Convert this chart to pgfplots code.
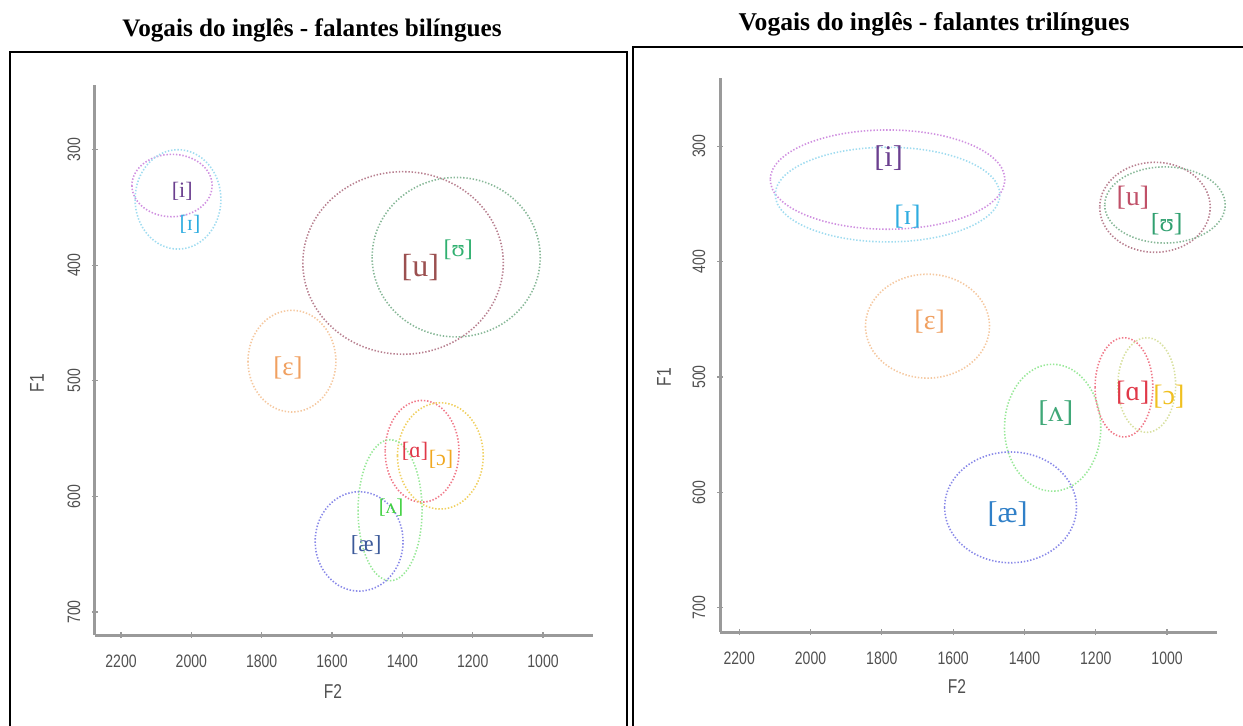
\documentclass[border=0pt]{standalone}
\usepackage{pgfplots}
\pgfplotsset{compat=1.18}
\usepackage{fontspec}
\setmainfont{Liberation Serif}
\newfontfamily\tickfont[FakeStretch=0.78]{Liberation Sans}
\newfontfamily\ipafont{Liberation Serif}

\definecolor{axisgray}{HTML}{9A9A9A}
\definecolor{tickgray}{HTML}{505050}
% ellipse colours
\definecolor{eI}{HTML}{D090E0}
\definecolor{eII}{HTML}{A0DCF0}
\definecolor{eU}{HTML}{B88090}
\definecolor{eUU}{HTML}{88B898}
\definecolor{eE}{HTML}{F5C8A0}
\definecolor{eA}{HTML}{F07888}
\definecolor{eO}{HTML}{F0D060}
\definecolor{eV}{HTML}{98E898}
\definecolor{eAE}{HTML}{8888E8}
% label colours
\definecolor{lI}{HTML}{6B3F8F}
\definecolor{lII}{HTML}{2EACE0}
\definecolor{lU}{HTML}{9B5050}
\definecolor{lUU}{HTML}{30B070}
\definecolor{lE}{HTML}{F0A060}
\definecolor{lA}{HTML}{E03848}
\definecolor{lO}{HTML}{F0A820}
\definecolor{lV}{HTML}{40D040}
\definecolor{lAE}{HTML}{3C5A9A}
\definecolor{rU}{HTML}{C05068}
\definecolor{rUU}{HTML}{30A070}
\definecolor{rV}{HTML}{40A878}
\definecolor{rAE}{HTML}{3080C8}
\definecolor{rO}{HTML}{F0C020}
\definecolor{rOe}{HTML}{D8E0A0}

% vowel ellipse: centre F2, centre F1, radius F2, radius F1, colour
\newcommand{\vell}[5]{\draw[#5, line width=0.8pt, dash pattern=on 0.7pt off 0.9pt] (axis cs:#1,#2) ellipse [x radius=#3, y radius=#4];}
% vowel label: F2, F1, text, colour, size
\newcommand{\vlab}[5]{\node[text=#4, inner sep=0pt, font=\ipafont\fontsize{#5}{#5}\selectfont] at (axis cs:#1,#2) {#3};}

\pgfplotsset{vowelaxis/.style={
  scale only axis, x dir=reverse, y dir=reverse,
  axis x line=bottom, axis y line=left,
  axis line style={-, draw=axisgray, line width=1.5pt},
  xtick={1000,1200,1400,1600,1800,2000,2200},
  ytick={300,400,500,600,700},
  tick style={draw=axisgray, line width=0.6pt},
  major tick length=3pt, tick align=center,
  ticklabel style={font=\tickfont\fontsize{9}{9}\selectfont, text=tickgray},
  xticklabel style={anchor=center, yshift=-11.5pt},
  yticklabel style={xshift=-9pt, rotate=90, anchor=center},
  /pgf/number format/1000 sep={},
  /pgf/number format/assume math mode=true,
  scaled ticks=false, clip=false,
}}

\begin{document}
\begin{tikzpicture}
\path[use as bounding box] (0,0) rectangle (621.5pt,362.5pt);
% frames
\draw[black, line width=1pt] (5pt,-2pt) rectangle (313.5pt,336.5pt);
\draw[black, line width=1pt] (316.5pt,-2pt) rectangle (623pt,339pt);
% titles
\node[font=\bfseries\fontsize{12.6}{13}\selectfont, anchor=base] at (156pt,344.5pt) {Vogais do inglês - falantes bilíngues};
\node[font=\bfseries\fontsize{12.8}{13}\selectfont, anchor=base] at (467pt,347pt) {Vogais do inglês - falantes trilíngues};

% ---------------- left: bilingual speakers
\begin{axis}[vowelaxis, name=L, at={(47.5pt,45pt)}, anchor=south west,
  width=249pt, height=275pt, xmin=858, xmax=2274, ymin=244, ymax=720]
\vell{2055}{331}{114}{27}{eI}
\vell{2038}{343}{122}{43}{eII}
\vell{1398}{398}{285}{79}{eU}
\vell{1247}{393}{239}{69}{eUU}
\vell{1714}{483}{125}{44}{eE}
\vell{1344}{561}{105}{44}{eA}
\vell{1292}{565}{122}{46}{eO}
\vell{1435}{612}{91}{61}{eV}
\vell{1523}{639}{125}{43}{eAE}
\vlab{2026}{336}{[i]}{lI}{11}
\vlab{2004}{365}{[ɪ]}{lII}{11}
\vlab{1349}{402}{[u]}{lU}{16}
\vlab{1241}{387}{[ʊ]}{lUU}{12}
\vlab{1725}{489}{[ɛ]}{lE}{13.5}
\vlab{1364}{561}{[ɑ]}{lA}{11}
\vlab{1290}{568}{[ɔ]}{lO}{11}
\vlab{1432}{610}{[ʌ]}{lV}{10.5}
\vlab{1503}{642}{[æ]}{lAE}{11.5}
\end{axis}

% ---------------- right: trilingual speakers
\begin{axis}[vowelaxis, name=R, at={(360pt,46.5pt)}, anchor=south west,
  width=248.5pt, height=277pt, xmin=860, xmax=2254, ymin=241, ymax=721]
\vell{1784}{329}{329}{43}{eI}
\vell{1784}{342}{315}{41}{eII}
\vell{1034}{353}{155}{39}{eU}
\vell{1006}{351}{169}{33}{eUU}
\vell{1672}{456}{174}{45}{eE}
\vell{1321}{544}{135}{55}{eV}
\vell{1439}{613}{185}{48}{eAE}
\vell{1121}{509}{81}{43}{eA}
\vell{1057}{507}{81}{41}{rOe}
\vlab{1781}{310}{[i]}{lI}{15}
\vlab{1728}{361}{[ɪ]}{lII}{14}
\vlab{1096}{345}{[u]}{rU}{14}
\vlab{1001}{368}{[ʊ]}{rUU}{13}
\vlab{1666}{452}{[ɛ]}{lE}{14}
\vlab{1312}{531}{[ʌ]}{rV}{15}
\vlab{1447}{619}{[æ]}{rAE}{15}
\vlab{1096}{514}{[ɑ]}{lA}{14}
\vlab{995}{517}{[ɔ]}{rO}{14}
\end{axis}

% axis titles
\node[font=\tickfont\fontsize{10}{10}\selectfont, text=tickgray, rotate=90] at (18.5pt,171pt) {F1};
\node[font=\tickfont\fontsize{10}{10}\selectfont, text=tickgray, rotate=90] at (332pt,174pt) {F1};
\node[font=\tickfont\fontsize{10}{10}\selectfont, text=tickgray] at (166.5pt,16.5pt) {F2};
\node[font=\tickfont\fontsize{10}{10}\selectfont, text=tickgray] at (478.5pt,19pt) {F2};
\end{tikzpicture}
\end{document}
